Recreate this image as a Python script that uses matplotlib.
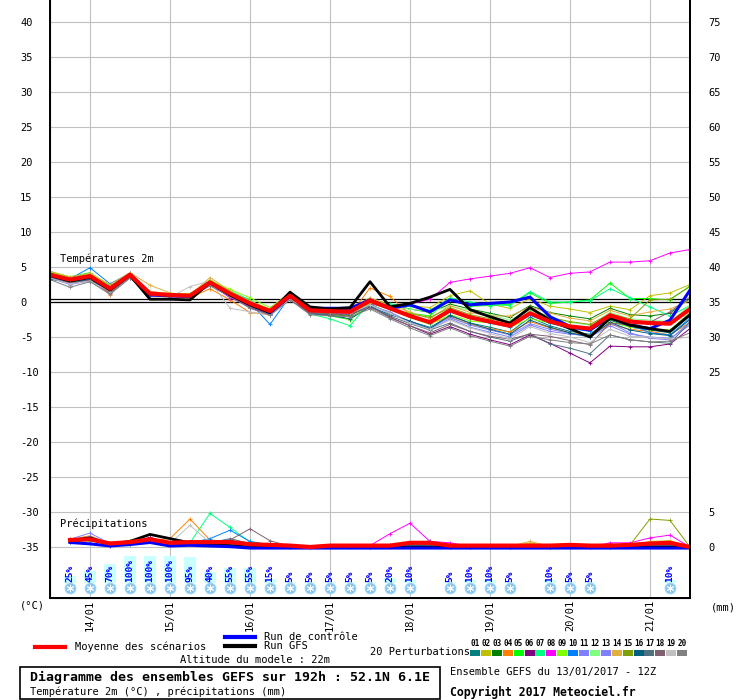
import matplotlib
matplotlib.use('Agg')
import matplotlib.pyplot as plt
from matplotlib.patches import Rectangle

plt.rcParams['font.family'] = ['DejaVu Sans Mono', 'DejaVu Sans']

# pas de 6h depuis le 13/01/2017 12Z (0 .. 192h)
steps = list(range(33))
date_steps = [2, 6, 10, 14, 18, 22, 26, 30]
dates = ['14/01', '15/01', '16/01', '17/01', '18/01', '19/01', '20/01', '21/01']

pert_colors = ['#008080', '#c0c000', '#008000', '#ff8000', '#00ff00', '#800080', '#00ff80',
               '#ff00ff', '#80ff00', '#0080ff', '#8080ff', '#80ff80', '#8080ff', '#e0b040',
               '#80a000', '#006080', '#507080', '#806070', '#c0c0c0', '#808080']

# temperatures 2m (degC)
mean_t = [3.9, 3.2, 3.7, 1.9, 3.9, 1.2, 1.0, 0.9, 2.8, 1.2, -0.2, -1.3, 0.9, -1.2, -1.3, -1.4, 0.2,
          -0.9, -2.0, -2.9, -1.2, -2.2, -2.8, -3.4, -1.6, -2.8, -3.5, -3.8, -1.9, -2.8, -3.0, -3.1, -1.0]
gfs_t = [3.8, 3.0, 3.5, 1.7, 3.8, 0.4, 0.4, 0.3, 2.8, 1.0, -0.4, -1.5, 1.4, -0.7, -1.0, -0.8, 2.9,
         -0.7, -0.2, 0.7, 1.8, -1.1, -2.1, -3.0, -0.8, -2.6, -3.8, -5.0, -2.3, -3.3, -3.8, -4.2, -1.8]
ctrl_t = [3.8, 3.1, 3.7, 1.9, 3.9, 1.0, 0.9, 0.8, 2.8, 1.1, -0.3, -1.5, 0.8, -0.9, -0.9, -0.9, 0.3,
          -0.9, -0.4, -1.4, 0.3, -0.4, -0.2, 0.0, 0.7, -2.1, -3.5, -4.0, -2.1, -3.3, -3.8, -2.6, 1.7]

t01 = [3.2, 3.0, 3.3, 1.6, 3.7, 1.0, 0.9, 0.8, 2.5, 1.0, -0.4, -1.6, 0.6, -1.5, -1.8, -2.0, -0.3,
       -1.6, -2.8, -3.6, -2.0, -3.0, -3.6, -4.3, -2.2, -3.4, -4.2, -4.6, -2.6, -3.6, -4.0, -4.4, -2.0]
t02 = [4.2, 3.4, 3.9, 2.2, 4.0, 1.3, 1.1, 1.0, 3.2, 1.4, 0.1, -1.0, 1.2, -1.0, -1.2, -1.0, 0.6,
       -0.4, -0.5, -0.8, 0.9, 1.6, -0.3, -0.9, 0.5, -0.6, -1.0, -1.5, -0.6, -1.1, 0.9, 1.3, 2.5]
t03 = [3.8, 3.3, 3.9, 2.1, 4.0, 1.2, 1.0, 0.9, 2.9, 1.4, 0.0, -1.1, 1.1, -1.3, -1.6, -1.2, 0.3,
       -0.3, -1.0, -1.5, -0.3, -1.0, -1.6, -2.2, -0.5, -1.5, -2.0, -2.4, -0.9, -1.8, -2.0, -1.6, 0.5]
t04 = [4.0, 3.3, 3.6, 1.0, 4.1, 1.5, 1.2, 0.6, 1.9, 0.3, -1.5, -1.8, 0.4, -1.6, -1.7, -1.8, 2.0,
       0.8, -1.8, -3.0, -2.2, -3.2, -3.8, -4.3, -2.8, -3.7, -4.4, -4.8, -3.2, -3.9, -4.2, -4.7, -2.9]
t05 = [4.3, 3.6, 4.2, 2.3, 4.1, 1.1, 1.0, 1.0, 3.0, 1.5, 0.2, -1.1, 1.0, -1.6, -2.0, -2.5, -0.2,
       -1.0, -1.6, -2.0, 0.5, -0.6, -0.5, -0.3, 1.3, -0.2, 0.0, 0.3, 2.7, 0.5, 0.5, 0.3, 2.3]
t06 = [3.5, 2.6, 3.2, 1.4, 3.6, 1.0, 0.8, 0.7, 2.4, 0.8, -0.8, -1.8, 0.4, -1.7, -1.8, -1.9, -0.5,
       -2.2, -3.4, -4.6, -3.5, -4.6, -5.4, -6.1, -4.7, -5.9, -7.3, -8.7, -6.3, -6.4, -6.4, -6.0, -3.8]
t07 = [4.1, 3.4, 4.0, 2.0, 4.0, 1.2, 1.1, 1.0, 3.0, 1.6, 0.3, -1.6, 0.9, -1.7, -2.4, -3.4, 0.0,
       -0.3, -0.6, -1.2, 0.6, 0.0, -0.4, -0.5, 1.5, 0.0, 0.0, 0.2, 1.9, 0.6, -0.7, -2.0, -0.5]
t08 = [3.6, 2.9, 3.4, 1.7, 3.8, 1.1, 0.9, 0.8, 2.6, 0.6, -0.6, -1.7, 0.7, -1.5, -1.4, -1.2, -0.2,
       -0.9, -0.3, 0.4, 2.8, 3.3, 3.7, 4.1, 4.9, 3.5, 4.1, 4.3, 5.7, 5.7, 5.9, 7.0, 7.5]
t09 = [4.3, 3.5, 4.0, 2.2, 4.0, 1.3, 1.2, 1.2, 3.1, 1.8, 0.6, -0.8, 1.3, -1.1, -1.5, -2.6, -0.1,
       -0.8, -2.2, -3.2, -1.8, -2.7, -3.0, -3.6, -2.4, -3.0, -3.6, -4.0, -2.8, -3.6, -3.8, -4.0, -1.5]
t10 = [3.9, 3.3, 4.9, 2.6, 4.1, 1.1, 1.0, 0.9, 2.9, 1.3, -0.1, -3.2, 0.8, -0.8, -1.0, -1.2, 0.3,
       -0.7, -1.9, -3.0, -1.4, -2.3, -3.0, -3.6, -1.9, -3.0, -3.8, -4.2, -2.0, -3.2, -4.4, -4.7, -2.3]
t11 = [3.4, 2.5, 3.0, 1.4, 3.5, 1.0, 0.9, 0.7, 2.5, 0.9, -0.5, -1.5, 0.5, -1.4, -1.6, -1.8, -0.4,
       -1.6, -2.8, -3.9, -2.4, -3.6, -4.3, -5.0, -3.3, -4.2, -4.6, -4.8, -3.0, -4.4, -5.2, -5.4, -2.8]
t12 = [4.0, 3.2, 3.8, 2.0, 3.9, 1.2, 1.0, 1.0, 3.0, 1.3, -0.1, -1.2, 1.0, -1.0, -1.1, -1.3, 0.2,
       -0.6, -1.0, -1.4, -0.6, -1.2, -1.8, -2.6, -1.2, -2.2, -2.9, -3.3, -1.5, -2.4, -2.6, -2.8, -0.5]
t13 = [3.7, 2.8, 3.3, 1.5, 3.7, 1.0, 0.8, 0.7, 2.6, 1.0, -0.5, -1.6, 0.5, -1.6, -1.7, -1.6, -0.5,
       -1.4, -2.9, -3.7, -2.2, -3.3, -4.0, -4.7, -3.1, -3.9, -4.5, -5.0, -3.4, -4.6, -5.0, -5.2, -3.3]
t14 = [4.4, 3.6, 4.1, 2.5, 4.2, 2.4, 1.3, 1.0, 3.5, 1.6, 0.1, -1.0, 1.4, -1.0, -1.2, -1.0, 0.6,
       -0.5, -1.4, -2.4, -0.5, -1.5, -2.0, -2.0, -0.7, -1.6, -2.3, -2.7, -1.2, -2.0, -1.4, -1.0, 0.2]
t15 = [3.8, 3.1, 3.6, 1.8, 3.9, 1.2, 1.1, 1.1, 2.9, 1.3, -0.3, -1.4, 0.9, -1.3, -1.7, -2.0, 0.0,
       -1.0, -1.7, -2.2, -0.8, -1.8, -2.4, -3.0, -0.9, -2.2, -2.8, -3.2, -1.7, -2.4, 0.3, 0.4, 2.2]
t16 = [3.3, 2.8, 3.2, 1.5, 3.6, 1.0, 0.9, 0.8, 2.6, 1.0, -0.6, -1.7, 0.6, -1.6, -1.9, -2.4, -0.7,
       -1.8, -2.7, -3.8, -1.9, -3.0, -3.9, -4.6, -2.6, -3.6, -4.4, -5.0, -2.9, -4.0, -4.5, -4.8, -2.5]
t17 = [3.6, 2.9, 3.5, 1.7, 3.8, 1.1, 0.9, 0.8, 2.7, 1.1, -0.4, -1.6, 0.6, -1.6, -1.9, -1.8, -0.6,
       -2.0, -3.1, -4.0, -3.0, -4.2, -5.0, -5.6, -4.5, -6.0, -6.6, -7.4, -4.7, -5.4, -5.7, -5.9, -2.9]
t18 = [3.5, 2.7, 3.1, 1.3, 3.5, 1.0, 0.8, 0.8, 2.4, 0.9, -0.6, -1.8, 0.5, -1.5, -1.7, -1.7, -0.8,
       -2.2, -3.4, -4.4, -3.2, -4.2, -4.9, -5.3, -4.6, -4.9, -5.5, -6.1, -3.0, -3.3, -2.9, -1.4, 0.7]
t19 = [3.4, 2.6, 3.0, 1.5, 3.6, 1.4, 0.7, 2.2, 3.0, -0.9, -1.4, -1.9, 0.4, -1.2, -1.4, -1.6, -0.4,
       -1.6, -3.0, -3.9, -2.6, -3.7, -4.5, -5.3, -3.5, -4.5, -5.0, -5.8, -3.9, -4.9, -5.0, -5.3, -5.0]
t20 = [3.2, 2.1, 2.9, 1.1, 3.4, 0.9, 0.7, 0.7, 2.3, 0.8, -0.9, -1.9, 0.3, -1.8, -2.0, -2.1, -1.0,
       -2.4, -3.7, -4.8, -3.7, -4.8, -5.6, -6.3, -4.9, -5.4, -5.8, -6.0, -4.7, -5.4, -5.7, -5.6, -4.4]
pert_t = [t01, t02, t03, t04, t05, t06, t07, t08, t09, t10,
          t11, t12, t13, t14, t15, t16, t17, t18, t19, t20]

# precipitations (mm par 6h), a partir de +6h
mean_p = [1.0, 1.1, 0.5, 0.7, 1.1, 0.6, 0.7, 0.7, 0.7, 0.4, 0.3, 0.2, 0.0, 0.2, 0.2, 0.2,
          0.2, 0.6, 0.6, 0.2, 0.2, 0.2, 0.2, 0.2, 0.2, 0.3, 0.2, 0.2, 0.3, 0.5, 0.6, 0.0]
gfs_p = [0.9, 1.3, 0.4, 0.8, 1.8, 1.2, 0.6, 0.3, 0.2, 0.0, 0.0, 0.0, 0.0, 0.0, 0.0, 0.0,
         0.0, 0.0, 0.0, 0.0, 0.0, 0.0, 0.0, 0.0, 0.0, 0.0, 0.0, 0.0, 0.0, 0.0, 0.0, 0.0]
ctrl_p = [0.8, 0.6, 0.3, 0.5, 0.8, 0.3, 0.4, 0.3, 0.2, 0.0, 0.0, 0.0, 0.0, 0.0, 0.0, 0.0,
          0.0, 0.0, 0.0, 0.0, 0.0, 0.0, 0.0, 0.0, 0.0, 0.0, 0.0, 0.0, 0.0, 0.0, 0.0, 0.0]

p01 = [0.8, 1.3, 0.4, 0.6, 1.0, 0.5, 0.5, 0.4, 0.6, 0.3, 0.2, 0.1, 0, 0.1, 0.1, 0, 0.1, 0.3, 0.2, 0, 0, 0, 0, 0.1, 0, 0, 0, 0, 0.2, 0.3, 0.3, 0]
p02 = [1.0, 1.0, 0.3, 0.4, 1.3, 0.6, 0.4, 0.3, 0.5, 0.2, 0.1, 0.1, 0, 0, 0, 0, 0, 0.2, 0.1, 0, 0, 0, 0, 0.6, 0, 0, 0, 0, 0.1, 0.8, 0.9, 0]
p03 = [0.7, 1.2, 0.5, 0.8, 1.2, 0.7, 0.4, 0.6, 0.4, 0.3, 0.2, 0, 0, 0, 0.1, 0, 0.2, 0.4, 0.6, 0.1, 0, 0, 0, 0.1, 0, 0, 0, 0, 0.3, 0.2, 0.2, 0]
p04 = [1.1, 1.6, 0.5, 0.6, 1.0, 1.2, 4.0, 1.0, 0.8, 0.5, 0.3, 0.2, 0, 0.1, 0.1, 0.1, 0.2, 0.4, 0.3, 0.1, 0, 0.1, 0.1, 0.3, 0.2, 0, 0, 0.1, 0.2, 0.3, 0.4, 0]
p05 = [0.9, 0.9, 0.4, 0.9, 0.9, 0.6, 0.5, 0.4, 0.5, 0.3, 0.2, 0.1, 0, 0.1, 0.1, 0.1, 0.2, 0.5, 0.6, 0.1, 0, 0.1, 0, 0.2, 0.1, 0, 0, 0.1, 0.3, 0.2, 0.3, 0]
p06 = [0.8, 1.0, 0.2, 0.5, 1.4, 0.4, 0.4, 0.4, 0.6, 0.4, 0.3, 0.1, 0, 0.2, 0.1, 0.1, 0.3, 0.6, 0.4, 0.1, 0.1, 0.1, 0.1, 0.2, 0.1, 0, 0, 0.1, 0.2, 0.4, 0.4, 0]
p07 = [0.9, 1.1, 0.4, 0.5, 0.9, 0.5, 0.6, 4.8, 2.8, 0.7, 0.3, 0.1, 0, 0.1, 0, 0, 0.1, 0.3, 0.9, 0.1, 0, 0, 0, 0.1, 0.1, 0, 0, 0, 0.2, 0.2, 0.2, 0]
p08 = [1.0, 1.2, 0.4, 0.6, 1.0, 0.6, 0.5, 0.5, 0.7, 0.4, 0.2, 0.2, 0, 0.1, 0.1, 0.2, 1.9, 3.4, 0.8, 0.6, 0.1, 0.1, 0.1, 0.1, 0.1, 0, 0, 0.6, 0.6, 1.3, 1.7, 0]
p09 = [0.8, 1.1, 0.6, 0.4, 1.1, 0.7, 0.5, 0.5, 0.6, 0.2, 0.1, 0.1, 0, 0.1, 0.1, 0.1, 0.2, 0.5, 0.4, 0.1, 0, 0.1, 0.1, 0.2, 0.1, 0, 0, 0.1, 0.2, 0.3, 0.4, 0]
p10 = [0.7, 1.0, 0.3, 0.6, 1.0, 0.7, 0.6, 1.2, 2.4, 0.8, 0.3, 0.1, 0, 0.1, 0.1, 0, 0.1, 0.3, 0.2, 0, 0, 0, 0, 0.1, 0, 0, 0, 0, 0.2, 0.3, 0.3, 0]
p11 = [1.1, 2.0, 0.5, 0.7, 1.2, 0.5, 0.5, 0.6, 0.7, 0.4, 0.2, 0.1, 0, 0.1, 0.1, 0.1, 0.2, 0.4, 0.3, 0.1, 0, 0.1, 0.1, 0.2, 0.1, 0, 0, 0.1, 0.3, 0.3, 0.3, 0]
p12 = [0.9, 1.1, 0.4, 0.5, 1.0, 0.6, 0.5, 0.5, 0.6, 0.3, 0.2, 0.1, 0, 0.1, 0.1, 0.1, 0.2, 0.5, 0.3, 0.1, 0, 0.1, 0.1, 0.2, 0.1, 0, 0, 0.1, 0.2, 0.3, 0.3, 0]
p13 = [1.0, 1.5, 0.4, 0.6, 1.1, 0.6, 0.4, 0.5, 0.6, 0.3, 0.2, 0.1, 0, 0.1, 0.1, 0.1, 0.2, 0.4, 0.3, 0.1, 0, 0.1, 0.1, 0.2, 0.1, 0, 0, 0.1, 0.2, 0.3, 0.3, 0]
p14 = [1.2, 1.2, 0.5, 0.6, 1.0, 0.6, 0.6, 0.5, 0.5, 0.4, 0.2, 0.1, 0, 0.1, 0.1, 0.1, 0.2, 0.4, 0.3, 0.1, 0, 0.1, 0.1, 0.8, 0.1, 0, 0, 0.1, 0.2, 0.5, 0.6, 0]
p15 = [0.8, 1.0, 0.4, 0.6, 1.0, 0.5, 0.5, 0.5, 0.6, 0.3, 0.2, 0.1, 0, 0.1, 0.1, 0.1, 0.2, 0.4, 0.3, 0.1, 0, 0.1, 0.1, 0.2, 0.1, 0, 0, 0.1, 0.3, 4.0, 3.8, 0]
p16 = [1.0, 1.1, 0.5, 0.6, 1.2, 0.6, 0.5, 0.6, 1.0, 0.4, 0.2, 0.1, 0, 0.1, 0.1, 0.1, 0.2, 0.4, 0.3, 0.1, 0, 0.1, 0.1, 0.2, 0.1, 0, 0, 0.1, 0.2, 0.3, 0.3, 0]
p17 = [0.9, 1.0, 0.4, 0.5, 1.1, 0.6, 0.5, 0.6, 1.2, 0.5, 0.2, 0.1, 0, 0.1, 0.1, 0.1, 0.2, 0.4, 0.3, 0.1, 0, 0.1, 0.1, 0.2, 0.1, 0, 0, 0.1, 0.2, 0.3, 0.3, 0]
p18 = [0.9, 1.1, 0.4, 0.6, 1.0, 0.6, 0.5, 0.6, 1.0, 2.6, 0.9, 0.1, 0, 0.1, 0.1, 0.1, 0.2, 0.4, 0.3, 0.1, 0, 0.1, 0.1, 0.2, 0.1, 0, 0, 0.1, 0.2, 0.3, 0.3, 0]
p19 = [0.8, 1.1, 0.4, 0.6, 1.0, 0.5, 3.1, 0.6, 0.5, 0.3, 0.2, 0.1, 0, 0.1, 0.1, 0.1, 0.2, 0.4, 0.3, 0.1, 0, 0.1, 0.1, 0.2, 0.1, 0, 0, 0.1, 0.2, 0.3, 0.3, 0]
p20 = [1.0, 1.2, 0.5, 0.6, 1.1, 0.6, 0.5, 0.5, 0.6, 0.3, 0.2, 0.1, 0, 0.1, 0.1, 0.1, 0.2, 0.4, 0.3, 0.1, 0, 0.1, 0.1, 0.2, 0.1, 0, 0, 0.1, 0.2, 0.3, 0.3, 0]
pert_p = [p01, p02, p03, p04, p05, p06, p07, p08, p09, p10,
          p11, p12, p13, p14, p15, p16, p17, p18, p19, p20]

# probabilite de neige (%)
snow_steps = [1, 2, 3, 4, 5, 6, 7, 8, 9, 10, 11, 12, 13, 14, 15, 16, 17, 18,
              20, 21, 22, 23, 25, 26, 27, 31]
snow_pct = [25, 45, 70, 100, 100, 100, 95, 40, 55, 55, 15, 5, 5, 5, 5, 5, 20, 10,
            5, 10, 10, 5, 10, 5, 5, 10]

P0 = -35.0   # zero des precipitations sur l'axe des temperatures

fig = plt.figure(figsize=(7.4, 7.0), dpi=100)
W, H = 740.0, 700.0
ax = fig.add_axes([50 / W, 102 / H, 640 / W, 598 / H])
ax.set_xlim(0, 32)
ax.set_ylim((302 - 598) / 7.0, 302 / 7.0)

grid_c = '#c0c0c0'
for v in range(-35, 41, 5):
    ax.axhline(v, color=grid_c, lw=0.8, zorder=0)
for s in date_steps:
    ax.axvline(s, color=grid_c, lw=0.8, zorder=0)
ax.axhline(0.05, color='black', lw=0.9, zorder=1)
ax.axhline(0.4, color='black', lw=0.9, zorder=1)

# perturbations
psteps = steps[1:]
for k in range(20):
    ax.plot(steps, pert_t[k], color=pert_colors[k], lw=0.7, marker='+', ms=3, mew=0.6, zorder=2)
    ax.plot(psteps, [P0 + v for v in pert_p[k]], color=pert_colors[k], lw=0.7,
            marker='+', ms=3, mew=0.6, zorder=2)

ax.plot(steps, ctrl_t, color='#0000ff', lw=2.2, zorder=3)
ax.plot(psteps, [P0 + v for v in gfs_p], color='black', lw=2.0, zorder=3)
ax.plot(psteps, [P0 - 0.15 + v for v in ctrl_p], color='#0000ff', lw=2.2, zorder=4)
ax.plot(steps, gfs_t, color='black', lw=2.0, zorder=4)
ax.plot(steps, mean_t, color='#ff0000', lw=3.0, zorder=5)
ax.plot(psteps, [P0 + v for v in mean_p], color='#ff0000', lw=3.0, zorder=5)

# neige : barres + pourcentage + flocon
bar_base = (302 - 583) / 7.0
bar_full = 27 / 7.0
ax.bar(snow_steps, [p / 100.0 * bar_full for p in snow_pct], bottom=bar_base, width=0.6,
       color='#c8ffff', zorder=1)
for s, p in zip(snow_steps, snow_pct):
    ax.text(s, bar_base + 0.1, '%d%%' % p, rotation=90, ha='center', va='bottom',
            fontsize=6.8, fontweight='bold', color='#0000ff', zorder=6)
flake_y = (302 - 588) / 7.0
ax.scatter(snow_steps, [flake_y] * len(snow_steps), s=62, color='#86c6ee',
           edgecolors='#a8d8f6', linewidths=0.6, zorder=6)
ax.scatter(snow_steps, [flake_y] * len(snow_steps), s=22, marker=(6, 2, 0),
           color='white', linewidths=0.7, zorder=7)

# axes
ax.set_xticks(date_steps)
ax.set_xticklabels(dates, rotation=90, fontsize=7.5)
ax.tick_params(axis='x', length=0, pad=1.5)
ax.set_yticks(list(range(-35, 41, 5)))
ax.set_yticklabels([str(v) for v in range(-35, 41, 5)], fontsize=7.5)
ax.tick_params(axis='y', length=0, pad=21.6)
for lab in ax.get_yticklabels():
    lab.set_ha('left')
for sp in ['left', 'right', 'bottom']:
    ax.spines[sp].set_linewidth(1.4)
ax.spines['top'].set_visible(False)

ax2 = ax.twinx()
ax2.set_ylim(ax.get_ylim())
right_vals = [0, 5, 25, 30, 35, 40, 45, 50, 55, 60, 65, 70, 75]
ax2.set_yticks([v - 35 for v in right_vals])
ax2.set_yticklabels([str(v) for v in right_vals], fontsize=7.5)
ax2.tick_params(axis='y', length=0, pad=13)
ax2.spines['top'].set_visible(False)
ax2.spines['right'].set_linewidth(1.4)

# textes et legende (coordonnees en pixels)
ov = fig.add_axes([0, 0, 1, 1], zorder=10)
ov.set_xlim(0, W)
ov.set_ylim(H, 0)
ov.axis('off')

ov.text(60, 259, 'Températures 2m', fontsize=7.5, va='center')
ov.text(60, 524, 'Précipitations', fontsize=7.5, va='center')
ov.text(20, 606, '(°C)', fontsize=7.5, va='center')
ov.text(711, 607, '(mm)', fontsize=7.5, va='center')

ov.plot([225, 255], [637, 637], color='#0000ff', lw=3)
ov.text(264, 637, 'Run de contrôle', fontsize=7.5, va='center')
ov.plot([225, 255], [646, 646], color='black', lw=3)
ov.text(264, 646, 'Run GFS', fontsize=7.5, va='center')
ov.plot([35, 65], [647, 647], color='#ff0000', lw=3)
ov.text(75, 647, 'Moyenne des scénarios', fontsize=7.5, va='center')
ov.text(180, 660, 'Altitude du modele : 22m', fontsize=7.5, va='center')

ov.text(370, 652, '20 Perturbations', fontsize=7.5, va='center')
for k in range(20):
    x0 = 470 + k * 10.9
    ov.add_patch(Rectangle((x0, 650), 10, 6, color=pert_colors[k], lw=0))
    ov.text(x0 + 5, 644, '%02d' % (k + 1), fontsize=5.5, fontweight='bold',
            ha='center', va='center')

ov.add_patch(Rectangle((20, 667), 420, 32, fill=False, edgecolor='black', lw=1.2))
ov.text(30, 677, 'Diagramme des ensembles GEFS sur 192h : 52.1N 6.1E', fontsize=9.5,
        fontweight='bold', va='center')
ov.text(30, 692, 'Température 2m (°C) , précipitations (mm)', fontsize=7.5, va='center')
ov.text(450, 672, 'Ensemble GEFS du 13/01/2017 - 12Z', fontsize=7.5, va='center')
ov.text(450, 692, 'Copyright 2017 Meteociel.fr', fontsize=8.3, fontweight='bold', va='center')

fig.savefig('out.png', dpi=100)
